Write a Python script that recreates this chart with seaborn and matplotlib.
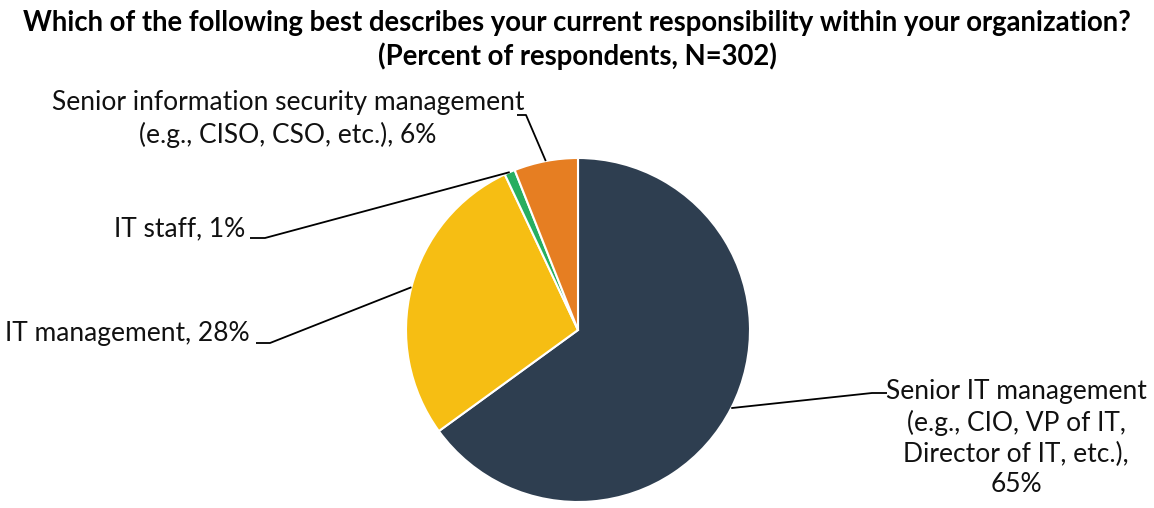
import numpy as np
import matplotlib
matplotlib.use("Agg")
import matplotlib.pyplot as plt
import seaborn as sns

sns.set_theme(style="white")
plt.rcParams['font.family'] = ['Lato', 'DejaVu Sans']

categories = [
    "Senior IT management\n(e.g., CIO, VP of IT,\nDirector of IT, etc.),\n65%",
    "IT management, 28%",
    "IT staff, 1%",
    "Senior information security management\n(e.g., CISO, CSO, etc.), 6%",
]
values = [65, 28, 1, 6]
colors = ["#2E3E50", "#F6BE13", "#27AE60", "#E67E22"]
title = ("Which of the following best describes your current responsibility within your organization?\n"
         "(Percent of respondents, N=302)")

W, H = 1154, 508
fig = plt.figure(figsize=(W / 100, H / 100), dpi=100)
ax = fig.add_axes([0, 0, 1, 1])

cx, cy, r = 578, 330, 172  # pixel coords (y down)


def Y(y):
    return H - y


ax.pie(values, colors=colors, startangle=90, counterclock=False,
       center=(cx, Y(cy)), radius=r, frame=False,
       wedgeprops=dict(edgecolor="white", linewidth=1.5))
ax.set_xlim(0, W)
ax.set_ylim(0, H)
ax.set_aspect("equal")
ax.axis("off")

# mid-angle points on the slice edges
total = sum(values)
cum = np.cumsum([0] + values)
ends = []
for i, v in enumerate(values):
    mid = (cum[i] + v / 2) / total * 360.0  # clockwise from 12 o'clock
    a = np.deg2rad(mid)
    ends.append((cx + r * np.sin(a), cy - r * np.cos(a)))

fs = 19
labels_cfg = [
    dict(xy=(1016, 438), ha="center", elbow=[(887, 393), (872, 393)]),
    dict(xy=(250, 333), ha="right", elbow=[(256, 343), (270, 343)]),
    dict(xy=(245, 229), ha="right", elbow=[(250, 238), (265, 238)]),
    dict(xy=(288, 119), ha="center", elbow=[(517, 115), (526, 115)]),
]
for lab, cfg, end in zip(categories, labels_cfg, ends):
    x, y = cfg["xy"]
    ax.text(x, Y(y), lab, ha=cfg["ha"], va="center", fontsize=fs,
            color="#111111", linespacing=1.28, multialignment="center")
    pts = cfg["elbow"] + [end]
    ax.plot([p[0] for p in pts], [Y(p[1]) for p in pts], color="black", lw=1.3,
            solid_capstyle="butt")

fig.text(0.5, Y(40) / H, title, ha="center", va="center", fontsize=19.8,
         fontweight="bold", color="black", linespacing=1.25)

fig.savefig("out.png", dpi=100)
